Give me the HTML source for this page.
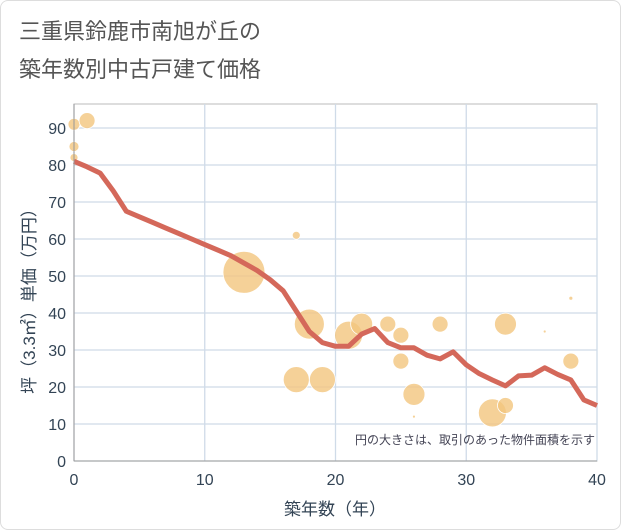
<!DOCTYPE html>
<html><head><meta charset="utf-8"><style>
body{margin:0;background:#fff;}
#wrap{position:relative;width:619px;height:528px;border:1px solid #ddd;border-radius:8px;overflow:hidden;background:#fff;}
svg text{font-family:"Liberation Sans","Noto Sans CJK JP",sans-serif;}
</style></head><body>
<div id="wrap">
<svg id="chart" width="621" height="530">
<text x="18" y="38" font-size="22" fill="#555">三重県鈴鹿市南旭が丘の</text>
<text x="18" y="76" font-size="22" fill="#555">築年数別中古戸建て価格</text>
<g id="grid"></g><g id="bubbles"></g><g id="line"></g><g id="axes"></g>
<text x="594" y="443" font-size="12" fill="#445" text-anchor="end">円の大きさは、取引のあった物件面積を示す</text>
<text x="334" y="514" font-size="17" fill="#345" text-anchor="middle">築年数（年）</text>
<text transform="translate(34,296) rotate(-90)" font-size="17" fill="#345" text-anchor="middle">坪（3.3㎡）単価（万円）</text>
</svg></div>
<script>
const xTicks=[0,10,20,30,40];
const yTicks=[0,10,20,30,40,50,60,70,80,90];
const lineYears=[0,1,2,3,4,5,6,7,8,9,10,11,12,13,14,15,16,17,18,19,20,21,22,23,24,25,26,27,28,29,30,31,32,33,34,35,36,37,38,39,40];
const lineValues=[81,79.5,77.8,73,67.5,66,64.5,63,61.5,60,58.5,57,55.5,53.5,51.5,49,46,40.5,35,32,31,31,34.3,35.8,32,30.6,30.6,28.6,27.6,29.5,26,23.6,21.9,20.3,23,23.2,25.2,23.4,21.9,16.5,15];
const bubbleYears=[0,0,0,1,13,17,17,18,19,21,22,24,25,25,26,26,28,32,33,33,36,38,38];
const bubbleValues=[91,85,82,92,51,61,22,37,22,34,37,37,34,27,18,12,37,13,15,37,35,44,27];
const bubbleSizes=[6,5,4,8,21,4,13,15,13,14,11,8,8,8,11,1.5,8,14,8,11,1.5,2,8];
const X0=73,X1=596,Y0=460,Ytop=103;
const xs=v=>X0+(v/40)*(X1-X0);
const ys=v=>Y0-v*3.7;
const NS="http://www.w3.org/2000/svg";
function mk(t,a,p){const e=document.createElementNS(NS,t);for(const k in a)e.setAttribute(k,a[k]);p.appendChild(e);return e;}
const grid=document.getElementById('grid'),axes=document.getElementById('axes');
mk('rect',{x:X0,y:Ytop,width:X1-X0,height:Y0-Ytop,fill:'#fff',stroke:'#bbb'},grid);
yTicks.forEach(t=>{
 const l=mk('line',{x1:X0,x2:X1,y1:ys(t),y2:ys(t),stroke:'#cfdbe8','stroke-width':1.3},grid);
 
 
 const tx=mk('text',{x:X0-8,y:ys(t)+6,'font-size':16,fill:'#345','text-anchor':'end'},axes);tx.textContent=t;
 
 
});
xTicks.forEach(t=>{
 const l=mk('line',{x1:xs(t),x2:xs(t),y1:Ytop,y2:Y0,stroke:'#cfdbe8','stroke-width':1.3},grid);
 
 
 const tx=mk('text',{x:xs(t),y:Y0+24,'font-size':16,fill:'#345','text-anchor':'middle'},axes);tx.textContent=t;
 
 
});
mk('line',{x1:X0,x2:X0,y1:Ytop,y2:Y0,stroke:'#999'},axes);
mk('line',{x1:X0,x2:X1,y1:Y0,y2:Y0,stroke:'#999'},axes);
const bg=document.getElementById('bubbles');
bubbleYears.forEach((yr,i)=>{
 const c=mk('circle',{cx:xs(yr),cy:ys(bubbleValues[i]),r:bubbleSizes[i],fill:'#f3c67e','fill-opacity':0.8,stroke:'#fff','stroke-width':0.8},bg);
 
 
});
const pts=lineYears.map((y,i)=>xs(y)+','+ys(lineValues[i])).join(' ');
const pl=mk('polyline',{points:pts,fill:'none',stroke:'#d4685a','stroke-width':5,'stroke-linejoin':'round'},document.getElementById('line'));


</script>
</body></html>
